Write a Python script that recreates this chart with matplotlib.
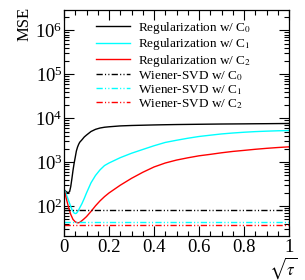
import matplotlib
matplotlib.use("Agg")
import matplotlib.pyplot as plt
from matplotlib.ticker import LogLocator, MultipleLocator, NullFormatter

plt.rcParams['font.family'] = ['Liberation Serif', 'DejaVu Serif']
plt.rcParams['mathtext.fontset'] = 'stix'

# ---- data ----
sqrt_tau = [0, 0.005, 0.01, 0.015, 0.02, 0.025, 0.03, 0.035, 0.04, 0.045, 0.05, 0.055,
            0.06, 0.065, 0.07, 0.08, 0.09, 0.1, 0.12, 0.14, 0.16, 0.18, 0.2, 0.25, 0.3,
            0.35, 0.4, 0.45, 0.5, 0.55, 0.6, 0.65, 0.7, 0.75, 0.8, 0.85, 0.9, 0.95, 1.0]
reg_c0 = [240, 225, 212, 206, 205, 215, 280, 420, 650, 950, 1300, 1800,
          2200, 2550, 2850, 3250, 3750, 4150, 5000, 5600, 6000, 6250, 6400, 6700, 6850,
          6950, 7050, 7130, 7200, 7250, 7300, 7350, 7400, 7430, 7460, 7500, 7530, 7570, 7600]
reg_c1 = [240, 215, 185, 160, 135, 115, 98, 85, 76, 70, 68, 69,
          74, 82, 92, 115, 150, 200, 340, 500, 670, 840, 960, 1270, 1600,
          1950, 2370, 2820, 3160, 3510, 3850, 4120, 4400, 4620, 4810, 4970, 5090, 5190, 5250]
reg_c2 = [240, 190, 150, 120, 95, 78, 65, 57, 50, 47, 44, 43,
          42, 42, 43, 47, 52, 58, 76, 102, 132, 165, 200, 300, 430,
          590, 780, 960, 1120, 1260, 1400, 1510, 1640, 1760, 1860, 1970, 2070, 2160, 2240]
wsvd_x = [0, 1]
wsvd_c0 = [84, 84]
wsvd_c1 = [43, 43]
wsvd_c2 = [37, 37]

labels = ["Regularization w/ C$_0$", "Regularization w/ C$_1$", "Regularization w/ C$_2$",
          "Wiener-SVD w/ C$_0$", "Wiener-SVD w/ C$_1$", "Wiener-SVD w/ C$_2$"]
colors = ["black", "#00ffff", "#ff0000"]
xtick_vals = [0, 0.2, 0.4, 0.6, 0.8, 1.0]
xtick_labels = ["0", "0.2", "0.4", "0.6", "0.8", "1"]

fig = plt.figure(figsize=(3.05, 2.8), dpi=100)
ax = fig.add_axes([64/305, 44/280, 225/305, 226/280])

dd = (0, (4.5, 1.6, 0.8, 1.6, 0.8, 1.6))
ax.plot(sqrt_tau, reg_c0, color=colors[0], lw=1.0, label=labels[0])
ax.plot(sqrt_tau, reg_c1, color=colors[1], lw=1.0, label=labels[1])
ax.plot(sqrt_tau, reg_c2, color=colors[2], lw=1.0, label=labels[2])
ax.plot(wsvd_x, wsvd_c0, color=colors[0], lw=1.0, ls=dd, label=labels[3])
ax.plot(wsvd_x, wsvd_c1, color=colors[1], lw=1.0, ls=dd, label=labels[4])
ax.plot(wsvd_x, wsvd_c2, color=colors[2], lw=1.0, ls=dd, label=labels[5])

ax.set_yscale('log')
ax.set_xlim(0, 1)
ax.set_ylim(21, 2.9e6)

ax.xaxis.set_minor_locator(MultipleLocator(0.05))
ax.set_xticks(xtick_vals)
ax.set_xticklabels(xtick_labels)
ax.yaxis.set_major_locator(LogLocator(base=10, numticks=20))
ax.yaxis.set_minor_locator(LogLocator(base=10, subs=range(2, 10), numticks=20))
ax.yaxis.set_minor_formatter(NullFormatter())

ax.tick_params(which='both', direction='in', top=True, right=True, width=0.8)
ax.tick_params(which='major', length=7, labelsize=13.5)
ax.tick_params(axis='x', which='major', pad=2)
ax.tick_params(axis='y', which='major', pad=1)
ax.tick_params(which='minor', length=3.5)
for s in ax.spines.values():
    s.set_linewidth(0.9)

fig.text(25/305, 1 - 7/280, "MSE", rotation=90, ha='center', va='top', fontsize=12)
fig.text(283/305, 1 - 268/280, r"$\sqrt{\tau}$", ha='center', va='center', fontsize=12)

ax.legend(loc='upper left', bbox_to_anchor=(96/305, 1 - 20/280), bbox_transform=fig.transFigure,
          frameon=False, fontsize=9.5, handlelength=2.6, handletextpad=0.6,
          labelspacing=0.02, borderpad=0, borderaxespad=0)

fig.savefig("out.png", dpi=100)
